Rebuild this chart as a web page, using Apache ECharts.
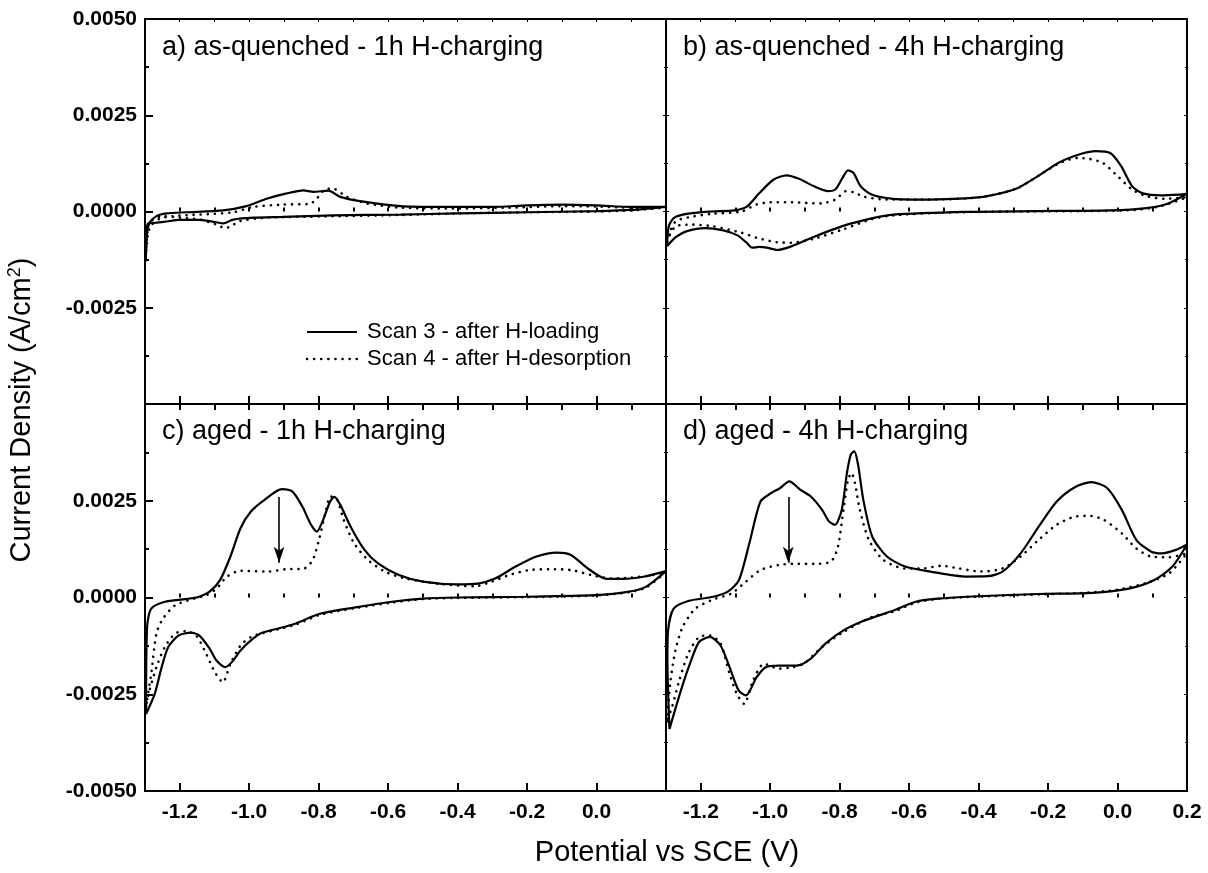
<!DOCTYPE html>
<html><head><meta charset="utf-8">
<script src="https://cdn.jsdelivr.net/npm/echarts@6/dist/echarts.min.js"></script>
<style>html,body{margin:0;padding:0;background:#fff}#c{width:1208px;height:873px}</style>
</head><body><div id="c"></div>
<script>
// ---- data (Potential V, Current density A/cm2), loops: anodic sweep then return ----
const panelTitles = ['a) as-quenched - 1h H-charging','b) as-quenched - 4h H-charging','c) aged - 1h H-charging','d) aged - 4h H-charging'];
const seriesNames = ['Scan 3 - after H-loading','Scan 4 - after H-desorption'];
const xMajorTicksLeft = [-1.2,-1.0,-0.8,-0.6,-0.4,-0.2,0.0];
const xMajorTicksRight = [-1.2,-1.0,-0.8,-0.6,-0.4,-0.2,0.0,0.2];
const xTitle = 'Potential vs SCE (V)';

const panelA_scan3 = [[-1.298,-0.0013],[-1.294,-0.00055],[-1.287,-0.00029],[-1.267,-0.00012],[-1.238,-0.00005],[-1.181,-0.00002],[-1.075,0.00003],[-1.008,0.00014],[-0.95,0.00033],[-0.892,0.00047],[-0.844,0.00055],[-0.815,0.00051],[-0.772,0.00054],[-0.738,0.00038],[-0.681,0.00027],[-0.565,0.00014],[-0.45,0.00012],[-0.3,0.00012],[-0.2,0.00016],[-0.1,0.00018],[0.0,0.00016],[0.1,0.00012],[0.2,0.00012],
 [0.1,0.00004],[0.0,0.00001],[-0.2,-0.00002],[-0.4,-0.00005],[-0.565,-0.00008],[-0.758,-0.0001],[-0.902,-0.00014],[-0.988,-0.00016],[-1.046,-0.00021],[-1.075,-0.00031],[-1.094,-0.00028],[-1.142,-0.00022],[-1.2,-0.00022],[-1.238,-0.00026],[-1.267,-0.00029],[-1.291,-0.00031],[-1.296,-0.00055],[-1.298,-0.0013]];
const panelA_scan4 = [[-1.298,-0.0012],[-1.291,-0.00055],[-1.282,-0.00036],[-1.258,-0.00019],[-1.219,-0.00012],[-1.142,-0.00008],[-1.046,-0.00002],[-0.988,0.00012],[-0.902,0.00018],[-0.825,0.0002],[-0.806,0.00033],[-0.782,0.00057],[-0.758,0.00059],[-0.719,0.00038],[-0.662,0.00021],[-0.565,0.0001],[-0.4,0.00008],[-0.25,0.0001],[-0.1,0.00014],[0.0,0.00013],[0.1,0.0001],[0.2,0.0001],
 [0.1,0.00003],[0.0,0.0],[-0.2,-0.00002],[-0.4,-0.00005],[-0.565,-0.00009],[-0.8,-0.00013],[-0.95,-0.00016],[-1.027,-0.00025],[-1.056,-0.0004],[-1.07,-0.00043],[-1.094,-0.00034],[-1.142,-0.00021],[-1.2,-0.00016],[-1.248,-0.00012],[-1.277,-0.00021],[-1.291,-0.00038],[-1.298,-0.0012]];

const panelB_scan3 = [[-1.297,-0.0009],[-1.292,-0.00038],[-1.276,-0.00016],[-1.24,-0.00006],[-1.167,0.0],[-1.104,0.00003],[-1.068,0.00012],[-1.031,0.00048],[-0.99,0.00083],[-0.953,0.00094],[-0.917,0.00085],[-0.875,0.00066],[-0.833,0.00053],[-0.8125,0.00057],[-0.792,0.00087],[-0.776,0.00107],[-0.76,0.001],[-0.74,0.00066],[-0.708,0.00044],[-0.646,0.00033],[-0.542,0.00031],[-0.4375,0.00034],[-0.375,0.0004],[-0.292,0.00059],[-0.229,0.00092],[-0.167,0.00128],[-0.104,0.0015],[-0.0625,0.00157],[-0.021,0.00152],[0.0104,0.00118],[0.0417,0.00066],[0.073,0.00047],[0.125,0.00042],[0.177,0.00044],[0.2,0.00046],
 [0.146,0.00021],[0.083,0.00009],[-0.021,0.00003],[-0.229,0.00001],[-0.4375,-0.00001],[-0.646,-0.00008],[-0.708,-0.00018],[-0.792,-0.00038],[-0.875,-0.00066],[-0.9375,-0.0009],[-0.979,-0.001],[-1.01,-0.00094],[-1.031,-0.00092],[-1.052,-0.00094],[-1.068,-0.00081],[-1.094,-0.00062],[-1.135,-0.00049],[-1.1875,-0.00043],[-1.24,-0.00051],[-1.271,-0.00066],[-1.297,-0.0009]];
const panelB_scan4 = [[-1.297,-0.0008],[-1.286,-0.00047],[-1.271,-0.00025],[-1.229,-0.00014],[-1.167,-0.00006],[-1.083,0.0],[-1.04,0.00018],[-1.0,0.00024],[-0.9375,0.00024],[-0.854,0.00021],[-0.8125,0.00031],[-0.781,0.00053],[-0.76,0.0005],[-0.729,0.00038],[-0.667,0.00031],[-0.542,0.00031],[-0.4375,0.00034],[-0.375,0.0004],[-0.292,0.00059],[-0.229,0.00092],[-0.167,0.00126],[-0.114,0.00139],[-0.083,0.00137],[-0.042,0.00126],[0.0,0.00092],[0.042,0.00057],[0.083,0.0004],[0.135,0.00033],[0.2,0.00037],
 [0.125,0.00014],[0.05,0.00004],[-0.1,0.00001],[-0.3,0.0],[-0.5,-0.00003],[-0.646,-0.0001],[-0.708,-0.0002],[-0.792,-0.00047],[-0.875,-0.00071],[-0.9375,-0.00081],[-0.979,-0.0008],[-1.04,-0.00068],[-1.083,-0.00055],[-1.167,-0.00038],[-1.229,-0.00034],[-1.271,-0.00038],[-1.286,-0.00055],[-1.297,-0.0008]];

const panelC_scan3 = [[-1.297,-0.00301],[-1.294,-0.00076],[-1.282,-0.00029],[-1.243,-0.00011],[-1.183,-0.00004],[-1.144,0.00002],[-1.114,0.00015],[-1.084,0.00045],[-1.054,0.00106],[-1.025,0.00179],[-0.995,0.00222],[-0.955,0.00253],[-0.906,0.0028],[-0.876,0.00274],[-0.847,0.00235],[-0.822,0.00188],[-0.805,0.0017],[-0.787,0.00201],[-0.767,0.00248],[-0.755,0.0026],[-0.738,0.0024],[-0.708,0.00183],[-0.668,0.00123],[-0.629,0.00088],[-0.569,0.00058],[-0.5,0.00041],[-0.401,0.00034],[-0.342,0.00036],[-0.292,0.00049],[-0.233,0.0008],[-0.173,0.00106],[-0.114,0.00116],[-0.074,0.0011],[-0.025,0.00075],[0.025,0.00049],[0.074,0.00048],[0.143,0.00055],[0.2,0.00068],
 [0.143,0.00028],[0.094,0.00015],[-0.005,0.00006],[-0.203,0.00002],[-0.401,0.0],[-0.5,-0.00003],[-0.589,-0.00011],[-0.698,-0.00026],[-0.797,-0.00042],[-0.866,-0.00067],[-0.916,-0.0008],[-0.965,-0.00092],[-0.995,-0.00111],[-1.025,-0.00137],[-1.05,-0.00167],[-1.069,-0.0018],[-1.094,-0.00163],[-1.114,-0.00132],[-1.144,-0.00098],[-1.168,-0.00091],[-1.203,-0.00098],[-1.233,-0.00128],[-1.252,-0.0018],[-1.272,-0.00249],[-1.297,-0.00301]];
const panelC_scan4 = [[-1.297,-0.0028],[-1.282,-0.00197],[-1.267,-0.00093],[-1.248,-0.00054],[-1.213,-0.0002],[-1.163,-0.00004],[-1.124,0.00006],[-1.094,0.00023],[-1.064,0.00054],[-1.025,0.00069],[-0.946,0.00067],[-0.896,0.00073],[-0.842,0.00075],[-0.817,0.00097],[-0.799,0.00149],[-0.782,0.00214],[-0.765,0.00261],[-0.747,0.00253],[-0.728,0.00201],[-0.698,0.0014],[-0.658,0.00097],[-0.609,0.00067],[-0.55,0.00049],[-0.45,0.00035],[-0.351,0.00029],[-0.302,0.00041],[-0.252,0.00058],[-0.193,0.00071],[-0.134,0.00073],[-0.074,0.00071],[-0.015,0.00058],[0.045,0.00049],[0.094,0.00051],[0.163,0.00058],[0.2,0.00066],
 [0.143,0.00026],[0.094,0.00014],[-0.005,0.00005],[-0.203,0.00001],[-0.401,-0.00001],[-0.5,-0.00004],[-0.589,-0.00013],[-0.698,-0.00028],[-0.797,-0.00045],[-0.866,-0.0007],[-0.916,-0.00082],[-0.965,-0.00093],[-0.995,-0.00102],[-1.025,-0.00124],[-1.054,-0.00171],[-1.076,-0.00219],[-1.099,-0.00193],[-1.124,-0.00145],[-1.153,-0.00098],[-1.183,-0.00087],[-1.213,-0.00093],[-1.243,-0.00128],[-1.267,-0.0018],[-1.287,-0.0024],[-1.297,-0.0028]];

const panelD_scan3 = [[-1.29,-0.0034],[-1.296,-0.0016],[-1.294,-0.00085],[-1.278,-0.00029],[-1.236,-0.00009],[-1.164,0.00002],[-1.122,0.00015],[-1.09,0.00045],[-1.06,0.0014],[-1.028,0.00248],[-0.997,0.0027],[-0.971,0.00283],[-0.945,0.003],[-0.914,0.00279],[-0.883,0.00261],[-0.851,0.00227],[-0.83,0.00196],[-0.813,0.00188],[-0.794,0.00227],[-0.779,0.00322],[-0.768,0.00369],[-0.758,0.00378],[-0.747,0.00343],[-0.732,0.00253],[-0.706,0.00157],[-0.664,0.00106],[-0.612,0.0008],[-0.539,0.00067],[-0.435,0.00054],[-0.373,0.00055],[-0.331,0.00067],[-0.279,0.00114],[-0.227,0.00183],[-0.175,0.00248],[-0.123,0.00285],[-0.076,0.00298],[-0.03,0.00283],[0.012,0.00227],[0.054,0.00149],[0.096,0.00119],[0.127,0.00114],[0.168,0.00123],[0.2,0.00137],
 [0.158,0.0008],[0.106,0.00045],[0.033,0.00023],[-0.072,0.00012],[-0.227,0.00009],[-0.435,0.00002],[-0.518,-0.00003],[-0.581,-0.00011],[-0.643,-0.00033],[-0.727,-0.00059],[-0.789,-0.00085],[-0.841,-0.00119],[-0.883,-0.00158],[-0.924,-0.00176],[-0.976,-0.00176],[-1.013,-0.0018],[-1.039,-0.00206],[-1.07,-0.00253],[-1.091,-0.0024],[-1.117,-0.0018],[-1.143,-0.00124],[-1.174,-0.00102],[-1.205,-0.00115],[-1.231,-0.00171],[-1.257,-0.0024],[-1.29,-0.0034]];
const panelD_scan4 = [[-1.297,-0.0032],[-1.288,-0.00223],[-1.273,-0.00137],[-1.252,-0.00076],[-1.216,-0.00029],[-1.164,-0.00005],[-1.112,0.0001],[-1.07,0.00041],[-1.028,0.00071],[-0.976,0.00084],[-0.935,0.00087],[-0.872,0.00087],[-0.825,0.00093],[-0.805,0.00131],[-0.789,0.00227],[-0.776,0.00304],[-0.766,0.00322],[-0.756,0.00296],[-0.742,0.00227],[-0.716,0.00149],[-0.674,0.00097],[-0.612,0.00075],[-0.56,0.00075],[-0.508,0.00082],[-0.456,0.00075],[-0.394,0.00067],[-0.331,0.00075],[-0.279,0.00106],[-0.227,0.00149],[-0.175,0.00188],[-0.123,0.00209],[-0.081,0.00211],[-0.04,0.00201],[0.012,0.00166],[0.054,0.00127],[0.096,0.00106],[0.148,0.00104],[0.2,0.00114],
 [0.148,0.00062],[0.085,0.00038],[0.0,0.0002],[-0.1,0.00012],[-0.227,0.00008],[-0.435,0.00001],[-0.52,-0.00004],[-0.581,-0.00013],[-0.643,-0.00036],[-0.706,-0.0005],[-0.789,-0.00089],[-0.851,-0.00128],[-0.903,-0.00171],[-0.935,-0.0018],[-0.976,-0.00184],[-1.018,-0.00171],[-1.049,-0.00214],[-1.075,-0.00275],[-1.096,-0.00249],[-1.117,-0.00197],[-1.143,-0.00119],[-1.174,-0.00098],[-1.205,-0.00102],[-1.236,-0.00145],[-1.262,-0.00215],[-1.283,-0.00284],[-1.297,-0.0032]];

// arrows (panel c and d): [x, yStart, yEnd]
const arrowC = [-0.914, 0.0026, 0.0009];
const arrowD = [-0.948, 0.0026, 0.0009];

// ---- chart ----
const X_MIN = -1.3, X_MAX = 0.2, Y_MIN = -0.005, Y_MAX = 0.005;
const FONT = '"Liberation Sans", Arial, sans-serif';
const DOT = [0.1, 7];
const grids = [
  {left:145, top:19, width:521, height:385},
  {left:666, top:19, width:521, height:385},
  {left:145, top:404, width:521, height:387},
  {left:666, top:404, width:521, height:387}
];
const xAxes = [], yAxes = [];
grids.forEach((g, i) => {
  const bottomRow = i >= 2;
  const majors = (i % 2 === 0) ? xMajorTicksLeft : xMajorTicksRight;
  xAxes.push({type:'value', gridIndex:i, position:'bottom', min:X_MIN, max:X_MAX,
    axisLine:{show:true, onZero:false, lineStyle:{color:'#000', width:2}},
    axisTick:{show:true, inside:true, length:8, customValues:majors, lineStyle:{color:'#000', width:2}},
    axisLabel:{show:bottomRow, customValues:majors, margin:11, color:'#000', fontFamily:FONT, fontWeight:'bold', fontSize:21,
      formatter:v => (Math.abs(v) < 1e-9 ? 0 : v).toFixed(1)},
    splitLine:{show:false}});
  xAxes.push({type:'value', gridIndex:i, position:'bottom', min:X_MIN, max:X_MAX, interval:0.1,
    axisLine:{show:false}, axisTick:{show:true, inside:true, length:4, lineStyle:{color:'#000', width:2}},
    axisLabel:{show:false}, splitLine:{show:false}});
  xAxes.push({type:'value', gridIndex:i, position:'top', min:X_MIN, max:X_MAX, interval:0.1,
    axisLine:{show:true, onZero:false, lineStyle:{color:'#000', width:2}},
    axisTick:{show:true, inside:true, length: bottomRow ? 6 : 3, lineStyle:{color:'#000', width: bottomRow ? 2 : 1}},
    axisLabel:{show:false}, splitLine:{show:false}});
  const leftCol = i % 2 === 0;
  yAxes.push({type:'value', gridIndex:i, position:'left', min:Y_MIN, max:Y_MAX, interval:0.0025,
    axisLine:{show:true, onZero:false, lineStyle:{color:'#000', width:2}},
    axisTick:{show:true, inside:true, length: leftCol ? 8 : 3, lineStyle:{color:'#000', width: leftCol ? 2 : 1}},
    minorTick:{show:true, splitNumber:2, length: leftCol ? 4 : 2, lineStyle:{color:'#000', width: leftCol ? 2 : 1}},
    axisLabel:{show:leftCol, margin:8, color:'#000', fontFamily:FONT, fontWeight:'bold', fontSize:21,
      showMinLabel: bottomRow, showMaxLabel: !bottomRow,
      formatter:v => (Math.abs(v) < 1e-12 ? 0 : v).toFixed(4)},
    splitLine:{show:false}, minorSplitLine:{show:false}});
  yAxes.push({type:'value', gridIndex:i, position:'right', min:Y_MIN, max:Y_MAX, interval:0.0025,
    axisLine:{show:true, onZero:false, lineStyle:{color:'#000', width:2}},
    axisTick:{show:true, inside:true, length:3, lineStyle:{color:'#000', width:1}},
    minorTick:{show:true, splitNumber:2, length:2, lineStyle:{color:'#000', width:1}},
    axisLabel:{show:false}, splitLine:{show:false}});
});

const curves = [[panelA_scan3, panelA_scan4],[panelB_scan3, panelB_scan4],[panelC_scan3, panelC_scan4],[panelD_scan3, panelD_scan4]];
const arrows = [null, null, arrowC, arrowD];
const series = [];
curves.forEach((pair, i) => {
  pair.forEach((data, k) => {
    const s = {
      type:'line', name:seriesNames[k], xAxisIndex:3*i, yAxisIndex:2*i, data:data,
      symbol:'none', smooth:0.25, clip:true, animation:false, silent:true,
      lineStyle: k === 0 ? {color:'#000', width:2.2, type:'solid'}
                         : {color:'#000', width:2.6, type:DOT, cap:'round'}
    };
    if (k === 0 && arrows[i]) {
      const a = arrows[i];
      s.markLine = {silent:true, symbol:['none','arrow'], symbolSize:[8,16], animation:false,
        label:{show:false}, lineStyle:{color:'#000', width:1.6, type:'solid'},
        data:[[{coord:[a[0], a[1]]},{coord:[a[0], a[2]]}]]};
    }
    series.push(s);
  });
});

const graphics = [];
const titlePos = [[162,34],[683,34],[162,418],[683,418]];
panelTitles.forEach((t, i) => {
  graphics.push({type:'text', left:titlePos[i][0], top:titlePos[i][1], silent:true,
    style:{text:t, font:'27px ' + FONT, fill:'#000'}});
});
// legend (drawn as line samples + labels)
const legendRows = [{y:332, dash:null, w:2.2}, {y:359, dash:DOT, w:2.6}];
legendRows.forEach((r, k) => {
  graphics.push({type:'line', silent:true, shape:{x1:307, y1:r.y, x2:357, y2:r.y},
    style:{stroke:'#000', lineWidth:r.w, lineDash:r.dash, lineCap: r.dash ? 'round' : 'butt'}});
  graphics.push({type:'text', x:367, y:r.y, silent:true,
    style:{text:seriesNames[k], font:'22px ' + FONT, fill:'#000', verticalAlign:'middle', textVerticalAlign:'middle'}});
});
graphics.push({type:'text', x:22, y:410, rotation:Math.PI/2, silent:true,
  style:{text:'Current Density (A/cm{sup|2})', font:'29px ' + FONT, fill:'#000',
    align:'center', verticalAlign:'middle', textAlign:'center', textVerticalAlign:'middle',
    rich:{sup:{font:'18px ' + FONT, fill:'#000', verticalAlign:'top', padding:[0,0,14,0]}}}});
graphics.push({type:'text', x:667, y:853, silent:true,
  style:{text:xTitle, font:'29px ' + FONT, fill:'#000', align:'center', verticalAlign:'middle', textAlign:'center', textVerticalAlign:'middle'}});

const chart = echarts.init(document.getElementById('c'), null, {renderer:'canvas'});
chart.setOption({
  backgroundColor:'#fff',
  animation:false,
  grid: grids.map(g => Object.assign({show:true, borderColor:'#000', borderWidth:2, backgroundColor:'transparent'}, g)),
  xAxis: xAxes, yAxis: yAxes,
  series: series,
  graphic: graphics
});
</script></body></html>
